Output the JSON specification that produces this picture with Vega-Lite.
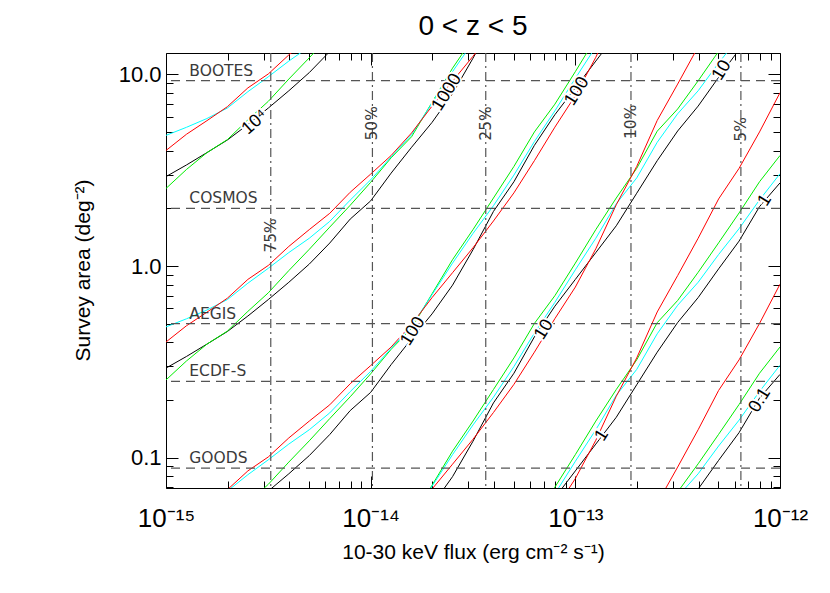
{
  "$schema": "https://vega.github.io/schema/vega-lite/v6.json",
  "width": 614,
  "height": 435,
  "autosize": {"type": "none"},
  "padding": {"left": 166, "top": 53, "right": 50, "bottom": 105},
  "background": "white",
  "title": {"text": "0 < z < 5", "fontSize": 28, "font": "Liberation Sans", "fontWeight": "normal", "color": "black", "offset": 11},
  "config": {
    "view": {"stroke": "black", "strokeWidth": 1},
    "font": "Liberation Sans"
  },
  "datasets": {
    "curves": [
      {"color":"k","level":"1e4","flux":1e-15,"area":2.93},{"color":"k","level":"1e4","flux":1.259e-15,"area":3.37},{"color":"k","level":"1e4","flux":1.585e-15,"area":3.91},{"color":"k","level":"1e4","flux":1.995e-15,"area":4.55},{"color":"k","level":"1e4","flux":2.512e-15,"area":5.48},{"color":"k","level":"1e4","flux":3.162e-15,"area":6.68},{"color":"k","level":"1e4","flux":3.981e-15,"area":8.22},{"color":"k","level":"1e4","flux":5.012e-15,"area":10.23},{"color":"k","level":"1e4","flux":6.31e-15,"area":13.18},{"color":"k","level":"1e4","flux":7.943e-15,"area":17.58},
      {"color":"k","level":"1e3","flux":1e-15,"area":0.293},{"color":"k","level":"1e3","flux":1.259e-15,"area":0.337},{"color":"k","level":"1e3","flux":1.585e-15,"area":0.391},{"color":"k","level":"1e3","flux":1.995e-15,"area":0.455},{"color":"k","level":"1e3","flux":2.512e-15,"area":0.548},{"color":"k","level":"1e3","flux":3.162e-15,"area":0.668},{"color":"k","level":"1e3","flux":3.981e-15,"area":0.822},{"color":"k","level":"1e3","flux":5.012e-15,"area":1.023},{"color":"k","level":"1e3","flux":6.31e-15,"area":1.318},{"color":"k","level":"1e3","flux":7.943e-15,"area":1.758},{"color":"k","level":"1e3","flux":1e-14,"area":2.188},{"color":"k","level":"1e3","flux":1.259e-14,"area":3.055},{"color":"k","level":"1e3","flux":1.585e-14,"area":4.169},{"color":"k","level":"1e3","flux":1.995e-14,"area":5.623},{"color":"k","level":"1e3","flux":2.512e-14,"area":7.943},{"color":"k","level":"1e3","flux":3.162e-14,"area":12.16},{"color":"k","level":"1e3","flux":3.981e-14,"area":19.28},
      {"color":"k","level":"1e2","flux":3.162e-15,"area":0.0668},{"color":"k","level":"1e2","flux":3.981e-15,"area":0.0822},{"color":"k","level":"1e2","flux":5.012e-15,"area":0.1023},{"color":"k","level":"1e2","flux":6.31e-15,"area":0.1318},{"color":"k","level":"1e2","flux":7.943e-15,"area":0.1758},{"color":"k","level":"1e2","flux":1e-14,"area":0.2188},{"color":"k","level":"1e2","flux":1.259e-14,"area":0.3055},{"color":"k","level":"1e2","flux":1.585e-14,"area":0.4169},{"color":"k","level":"1e2","flux":1.995e-14,"area":0.5623},{"color":"k","level":"1e2","flux":2.512e-14,"area":0.7943},{"color":"k","level":"1e2","flux":3.162e-14,"area":1.216},{"color":"k","level":"1e2","flux":3.981e-14,"area":1.928},{"color":"k","level":"1e2","flux":5.012e-14,"area":2.754},{"color":"k","level":"1e2","flux":6.31e-14,"area":4.266},{"color":"k","level":"1e2","flux":7.943e-14,"area":6.166},{"color":"k","level":"1e2","flux":1e-13,"area":8.511},{"color":"k","level":"1e2","flux":1.259e-13,"area":11.75},{"color":"k","level":"1e2","flux":1.585e-13,"area":16.22},
      {"color":"k","level":"1e1","flux":1.995e-14,"area":0.05623},{"color":"k","level":"1e1","flux":2.512e-14,"area":0.07943},{"color":"k","level":"1e1","flux":3.162e-14,"area":0.1216},{"color":"k","level":"1e1","flux":3.981e-14,"area":0.1928},{"color":"k","level":"1e1","flux":5.012e-14,"area":0.2754},{"color":"k","level":"1e1","flux":6.31e-14,"area":0.4266},{"color":"k","level":"1e1","flux":7.943e-14,"area":0.6166},{"color":"k","level":"1e1","flux":1e-13,"area":0.8511},{"color":"k","level":"1e1","flux":1.259e-13,"area":1.175},{"color":"k","level":"1e1","flux":1.585e-13,"area":1.622},{"color":"k","level":"1e1","flux":1.995e-13,"area":2.399},{"color":"k","level":"1e1","flux":2.512e-13,"area":3.548},{"color":"k","level":"1e1","flux":3.162e-13,"area":5.07},{"color":"k","level":"1e1","flux":3.981e-13,"area":6.839},{"color":"k","level":"1e1","flux":5.012e-13,"area":9.661},{"color":"k","level":"1e1","flux":6.31e-13,"area":13.49},
      {"color":"k","level":"1e0","flux":7.943e-14,"area":0.06166},{"color":"k","level":"1e0","flux":1e-13,"area":0.08511},{"color":"k","level":"1e0","flux":1.259e-13,"area":0.1175},{"color":"k","level":"1e0","flux":1.585e-13,"area":0.1622},{"color":"k","level":"1e0","flux":1.995e-13,"area":0.2399},{"color":"k","level":"1e0","flux":2.512e-13,"area":0.3548},{"color":"k","level":"1e0","flux":3.162e-13,"area":0.507},{"color":"k","level":"1e0","flux":3.981e-13,"area":0.6839},{"color":"k","level":"1e0","flux":5.012e-13,"area":0.9661},{"color":"k","level":"1e0","flux":6.31e-13,"area":1.349},{"color":"k","level":"1e0","flux":7.943e-13,"area":2.042},{"color":"k","level":"1e0","flux":1e-12,"area":2.716},
      {"color":"k","level":"1e-1","flux":3.162e-13,"area":0.0507},{"color":"k","level":"1e-1","flux":3.981e-13,"area":0.06839},{"color":"k","level":"1e-1","flux":5.012e-13,"area":0.09661},{"color":"k","level":"1e-1","flux":6.31e-13,"area":0.1349},{"color":"k","level":"1e-1","flux":7.943e-13,"area":0.2042},{"color":"k","level":"1e-1","flux":1e-12,"area":0.2716},

      {"color":"g","level":"1e4","flux":1e-15,"area":2.541},{"color":"g","level":"1e4","flux":1.259e-15,"area":3.192},{"color":"g","level":"1e4","flux":1.585e-15,"area":3.908},{"color":"g","level":"1e4","flux":1.995e-15,"area":4.571},{"color":"g","level":"1e4","flux":2.512e-15,"area":5.794},{"color":"g","level":"1e4","flux":3.162e-15,"area":7.244},{"color":"g","level":"1e4","flux":3.981e-15,"area":9.462},{"color":"g","level":"1e4","flux":5.012e-15,"area":12.22},{"color":"g","level":"1e4","flux":6.31e-15,"area":15.96},
      {"color":"g","level":"1e3","flux":1e-15,"area":0.2541},{"color":"g","level":"1e3","flux":1.259e-15,"area":0.3192},{"color":"g","level":"1e3","flux":1.585e-15,"area":0.3908},{"color":"g","level":"1e3","flux":1.995e-15,"area":0.4571},{"color":"g","level":"1e3","flux":2.512e-15,"area":0.5794},{"color":"g","level":"1e3","flux":3.162e-15,"area":0.7244},{"color":"g","level":"1e3","flux":3.981e-15,"area":0.9462},{"color":"g","level":"1e3","flux":5.012e-15,"area":1.222},{"color":"g","level":"1e3","flux":6.31e-15,"area":1.596},{"color":"g","level":"1e3","flux":7.943e-15,"area":2.075},{"color":"g","level":"1e3","flux":1e-14,"area":2.735},{"color":"g","level":"1e3","flux":1.259e-14,"area":3.673},{"color":"g","level":"1e3","flux":1.585e-14,"area":4.732},{"color":"g","level":"1e3","flux":1.995e-14,"area":7.161},{"color":"g","level":"1e3","flux":2.512e-14,"area":10.79},{"color":"g","level":"1e3","flux":3.162e-14,"area":15.49},
      {"color":"g","level":"1e2","flux":2.512e-15,"area":0.05794},{"color":"g","level":"1e2","flux":3.162e-15,"area":0.07244},{"color":"g","level":"1e2","flux":3.981e-15,"area":0.09462},{"color":"g","level":"1e2","flux":5.012e-15,"area":0.1222},{"color":"g","level":"1e2","flux":6.31e-15,"area":0.1596},{"color":"g","level":"1e2","flux":7.943e-15,"area":0.2075},{"color":"g","level":"1e2","flux":1e-14,"area":0.2735},{"color":"g","level":"1e2","flux":1.259e-14,"area":0.3673},{"color":"g","level":"1e2","flux":1.585e-14,"area":0.4732},{"color":"g","level":"1e2","flux":1.995e-14,"area":0.7161},{"color":"g","level":"1e2","flux":2.512e-14,"area":1.079},{"color":"g","level":"1e2","flux":3.162e-14,"area":1.549},{"color":"g","level":"1e2","flux":3.981e-14,"area":2.265},{"color":"g","level":"1e2","flux":5.012e-14,"area":3.311},{"color":"g","level":"1e2","flux":6.31e-14,"area":5.012},{"color":"g","level":"1e2","flux":7.943e-14,"area":6.998},{"color":"g","level":"1e2","flux":1e-13,"area":10.35},{"color":"g","level":"1e2","flux":1.259e-13,"area":15.49},
      {"color":"g","level":"1e1","flux":1.585e-14,"area":0.04732},{"color":"g","level":"1e1","flux":1.995e-14,"area":0.07161},{"color":"g","level":"1e1","flux":2.512e-14,"area":0.1079},{"color":"g","level":"1e1","flux":3.162e-14,"area":0.1549},{"color":"g","level":"1e1","flux":3.981e-14,"area":0.2265},{"color":"g","level":"1e1","flux":5.012e-14,"area":0.3311},{"color":"g","level":"1e1","flux":6.31e-14,"area":0.5012},{"color":"g","level":"1e1","flux":7.943e-14,"area":0.6998},{"color":"g","level":"1e1","flux":1e-13,"area":1.035},{"color":"g","level":"1e1","flux":1.259e-13,"area":1.549},{"color":"g","level":"1e1","flux":1.585e-13,"area":2.265},{"color":"g","level":"1e1","flux":1.995e-13,"area":3.236},{"color":"g","level":"1e1","flux":2.512e-13,"area":5.058},{"color":"g","level":"1e1","flux":3.162e-13,"area":6.607},{"color":"g","level":"1e1","flux":3.981e-13,"area":9.268},{"color":"g","level":"1e1","flux":5.012e-13,"area":13.21},
      {"color":"g","level":"1e0","flux":6.31e-14,"area":0.05012},{"color":"g","level":"1e0","flux":7.943e-14,"area":0.06998},{"color":"g","level":"1e0","flux":1e-13,"area":0.1035},{"color":"g","level":"1e0","flux":1.259e-13,"area":0.1549},{"color":"g","level":"1e0","flux":1.585e-13,"area":0.2265},{"color":"g","level":"1e0","flux":1.995e-13,"area":0.3236},{"color":"g","level":"1e0","flux":2.512e-13,"area":0.5058},{"color":"g","level":"1e0","flux":3.162e-13,"area":0.6607},{"color":"g","level":"1e0","flux":3.981e-13,"area":0.9268},{"color":"g","level":"1e0","flux":5.012e-13,"area":1.321},{"color":"g","level":"1e0","flux":6.31e-13,"area":1.892},{"color":"g","level":"1e0","flux":7.943e-13,"area":2.754},{"color":"g","level":"1e0","flux":1e-12,"area":3.776},
      {"color":"g","level":"1e-1","flux":2.512e-13,"area":0.05058},{"color":"g","level":"1e-1","flux":3.162e-13,"area":0.06607},{"color":"g","level":"1e-1","flux":3.981e-13,"area":0.09268},{"color":"g","level":"1e-1","flux":5.012e-13,"area":0.1321},{"color":"g","level":"1e-1","flux":6.31e-13,"area":0.1892},{"color":"g","level":"1e-1","flux":7.943e-13,"area":0.2754},{"color":"g","level":"1e-1","flux":1e-12,"area":0.3776},

      {"color":"c","level":"1e4","flux":1e-15,"area":4.81},{"color":"c","level":"1e4","flux":1.259e-15,"area":5.3},{"color":"c","level":"1e4","flux":1.585e-15,"area":5.89},{"color":"c","level":"1e4","flux":1.995e-15,"area":6.68},{"color":"c","level":"1e4","flux":2.512e-15,"area":8.13},{"color":"c","level":"1e4","flux":3.162e-15,"area":9.73},{"color":"c","level":"1e4","flux":3.981e-15,"area":11.75},{"color":"c","level":"1e4","flux":5.012e-15,"area":13.96},
      {"color":"c","level":"1e3","flux":1e-15,"area":0.481},{"color":"c","level":"1e3","flux":1.259e-15,"area":0.53},{"color":"c","level":"1e3","flux":1.585e-15,"area":0.589},{"color":"c","level":"1e3","flux":1.995e-15,"area":0.668},{"color":"c","level":"1e3","flux":2.512e-15,"area":0.813},{"color":"c","level":"1e3","flux":3.162e-15,"area":0.973},{"color":"c","level":"1e3","flux":3.981e-15,"area":1.175},{"color":"c","level":"1e3","flux":5.012e-15,"area":1.396},{"color":"c","level":"1e3","flux":6.31e-15,"area":1.71},{"color":"c","level":"1e3","flux":7.943e-15,"area":2.208},{"color":"c","level":"1e3","flux":1e-14,"area":2.818},{"color":"c","level":"1e3","flux":1.259e-14,"area":3.715},{"color":"c","level":"1e3","flux":1.585e-14,"area":4.853},{"color":"c","level":"1e3","flux":1.995e-14,"area":7.079},{"color":"c","level":"1e3","flux":2.512e-14,"area":10.35},{"color":"c","level":"1e3","flux":3.162e-14,"area":14.79},
      {"color":"c","level":"1e2","flux":1.995e-15,"area":0.0668},{"color":"c","level":"1e2","flux":2.512e-15,"area":0.0813},{"color":"c","level":"1e2","flux":3.162e-15,"area":0.0973},{"color":"c","level":"1e2","flux":3.981e-15,"area":0.1175},{"color":"c","level":"1e2","flux":5.012e-15,"area":0.1396},{"color":"c","level":"1e2","flux":6.31e-15,"area":0.171},{"color":"c","level":"1e2","flux":7.943e-15,"area":0.2208},{"color":"c","level":"1e2","flux":1e-14,"area":0.2818},{"color":"c","level":"1e2","flux":1.259e-14,"area":0.3715},{"color":"c","level":"1e2","flux":1.585e-14,"area":0.4853},{"color":"c","level":"1e2","flux":1.995e-14,"area":0.7079},{"color":"c","level":"1e2","flux":2.512e-14,"area":1.035},{"color":"c","level":"1e2","flux":3.162e-14,"area":1.479},{"color":"c","level":"1e2","flux":3.981e-14,"area":2.065},{"color":"c","level":"1e2","flux":5.012e-14,"area":2.985},{"color":"c","level":"1e2","flux":6.31e-14,"area":4.467},{"color":"c","level":"1e2","flux":7.943e-14,"area":6.457},{"color":"c","level":"1e2","flux":1e-13,"area":9.55},{"color":"c","level":"1e2","flux":1.259e-13,"area":13.96},
      {"color":"c","level":"1e1","flux":1.585e-14,"area":0.04853},{"color":"c","level":"1e1","flux":1.995e-14,"area":0.07079},{"color":"c","level":"1e1","flux":2.512e-14,"area":0.1035},{"color":"c","level":"1e1","flux":3.162e-14,"area":0.1479},{"color":"c","level":"1e1","flux":3.981e-14,"area":0.2065},{"color":"c","level":"1e1","flux":5.012e-14,"area":0.2985},{"color":"c","level":"1e1","flux":6.31e-14,"area":0.4467},{"color":"c","level":"1e1","flux":7.943e-14,"area":0.6457},{"color":"c","level":"1e1","flux":1e-13,"area":0.955},{"color":"c","level":"1e1","flux":1.259e-13,"area":1.396},{"color":"c","level":"1e1","flux":1.585e-13,"area":2.113},{"color":"c","level":"1e1","flux":1.995e-13,"area":2.884},{"color":"c","level":"1e1","flux":2.512e-13,"area":4.426},{"color":"c","level":"1e1","flux":3.162e-13,"area":6.237},{"color":"c","level":"1e1","flux":3.981e-13,"area":8.222},{"color":"c","level":"1e1","flux":5.012e-13,"area":11.48},{"color":"c","level":"1e1","flux":6.31e-13,"area":15.67},
      {"color":"c","level":"1e0","flux":6.31e-14,"area":0.04467},{"color":"c","level":"1e0","flux":7.943e-14,"area":0.06457},{"color":"c","level":"1e0","flux":1e-13,"area":0.0955},{"color":"c","level":"1e0","flux":1.259e-13,"area":0.1396},{"color":"c","level":"1e0","flux":1.585e-13,"area":0.2113},{"color":"c","level":"1e0","flux":1.995e-13,"area":0.2884},{"color":"c","level":"1e0","flux":2.512e-13,"area":0.4426},{"color":"c","level":"1e0","flux":3.162e-13,"area":0.6237},{"color":"c","level":"1e0","flux":3.981e-13,"area":0.8222},{"color":"c","level":"1e0","flux":5.012e-13,"area":1.148},{"color":"c","level":"1e0","flux":6.31e-13,"area":1.567},{"color":"c","level":"1e0","flux":7.943e-13,"area":2.213},{"color":"c","level":"1e0","flux":1e-12,"area":3.034},
      {"color":"c","level":"1e-1","flux":3.162e-13,"area":0.06237},{"color":"c","level":"1e-1","flux":3.981e-13,"area":0.08222},{"color":"c","level":"1e-1","flux":5.012e-13,"area":0.1148},{"color":"c","level":"1e-1","flux":6.31e-13,"area":0.1567},{"color":"c","level":"1e-1","flux":7.943e-13,"area":0.2213},{"color":"c","level":"1e-1","flux":1e-12,"area":0.3034},

      {"color":"r","level":"1e4","flux":1e-15,"area":4.01},{"color":"r","level":"1e4","flux":1.259e-15,"area":4.875},{"color":"r","level":"1e4","flux":1.585e-15,"area":5.74},{"color":"r","level":"1e4","flux":1.995e-15,"area":6.79},{"color":"r","level":"1e4","flux":2.512e-15,"area":8.51},{"color":"r","level":"1e4","flux":3.162e-15,"area":10.07},{"color":"r","level":"1e4","flux":3.981e-15,"area":12.65},{"color":"r","level":"1e4","flux":5.012e-15,"area":15.49},
      {"color":"r","level":"1e3","flux":1e-15,"area":0.401},{"color":"r","level":"1e3","flux":1.259e-15,"area":0.4875},{"color":"r","level":"1e3","flux":1.585e-15,"area":0.574},{"color":"r","level":"1e3","flux":1.995e-15,"area":0.679},{"color":"r","level":"1e3","flux":2.512e-15,"area":0.851},{"color":"r","level":"1e3","flux":3.162e-15,"area":1.007},{"color":"r","level":"1e3","flux":3.981e-15,"area":1.265},{"color":"r","level":"1e3","flux":5.012e-15,"area":1.549},{"color":"r","level":"1e3","flux":6.31e-15,"area":1.884},{"color":"r","level":"1e3","flux":7.943e-15,"area":2.427},{"color":"r","level":"1e3","flux":1e-14,"area":3.02},{"color":"r","level":"1e3","flux":1.259e-14,"area":3.776},{"color":"r","level":"1e3","flux":1.585e-14,"area":4.955},{"color":"r","level":"1e3","flux":1.995e-14,"area":6.839},{"color":"r","level":"1e3","flux":2.512e-14,"area":9.226},{"color":"r","level":"1e3","flux":3.162e-14,"area":12.45},{"color":"r","level":"1e3","flux":3.981e-14,"area":17.18},
      {"color":"r","level":"1e2","flux":1.995e-15,"area":0.0679},{"color":"r","level":"1e2","flux":2.512e-15,"area":0.0851},{"color":"r","level":"1e2","flux":3.162e-15,"area":0.1007},{"color":"r","level":"1e2","flux":3.981e-15,"area":0.1265},{"color":"r","level":"1e2","flux":5.012e-15,"area":0.1549},{"color":"r","level":"1e2","flux":6.31e-15,"area":0.1884},{"color":"r","level":"1e2","flux":7.943e-15,"area":0.2427},{"color":"r","level":"1e2","flux":1e-14,"area":0.302},{"color":"r","level":"1e2","flux":1.259e-14,"area":0.3776},{"color":"r","level":"1e2","flux":1.585e-14,"area":0.4955},{"color":"r","level":"1e2","flux":1.995e-14,"area":0.6839},{"color":"r","level":"1e2","flux":2.512e-14,"area":0.9226},{"color":"r","level":"1e2","flux":3.162e-14,"area":1.245},{"color":"r","level":"1e2","flux":3.981e-14,"area":1.718},{"color":"r","level":"1e2","flux":5.012e-14,"area":2.41},{"color":"r","level":"1e2","flux":6.31e-14,"area":3.548},{"color":"r","level":"1e2","flux":7.943e-14,"area":5.309},{"color":"r","level":"1e2","flux":1e-13,"area":7.762},{"color":"r","level":"1e2","flux":1.259e-13,"area":12.3},{"color":"r","level":"1e2","flux":1.585e-13,"area":20.89},
      {"color":"r","level":"1e1","flux":1.995e-14,"area":0.06839},{"color":"r","level":"1e1","flux":2.512e-14,"area":0.09226},{"color":"r","level":"1e1","flux":3.162e-14,"area":0.1245},{"color":"r","level":"1e1","flux":3.981e-14,"area":0.1718},{"color":"r","level":"1e1","flux":5.012e-14,"area":0.241},{"color":"r","level":"1e1","flux":6.31e-14,"area":0.3548},{"color":"r","level":"1e1","flux":7.943e-14,"area":0.5309},{"color":"r","level":"1e1","flux":1e-13,"area":0.7762},{"color":"r","level":"1e1","flux":1.259e-13,"area":1.23},{"color":"r","level":"1e1","flux":1.585e-13,"area":2.089},{"color":"r","level":"1e1","flux":1.995e-13,"area":3.311},{"color":"r","level":"1e1","flux":2.512e-13,"area":5.754},{"color":"r","level":"1e1","flux":3.162e-13,"area":8.913},{"color":"r","level":"1e1","flux":3.981e-13,"area":13.96},
      {"color":"r","level":"1e0","flux":7.943e-14,"area":0.05309},{"color":"r","level":"1e0","flux":1e-13,"area":0.07762},{"color":"r","level":"1e0","flux":1.259e-13,"area":0.123},{"color":"r","level":"1e0","flux":1.585e-13,"area":0.2089},{"color":"r","level":"1e0","flux":1.995e-13,"area":0.3311},{"color":"r","level":"1e0","flux":2.512e-13,"area":0.5754},{"color":"r","level":"1e0","flux":3.162e-13,"area":0.8913},{"color":"r","level":"1e0","flux":3.981e-13,"area":1.396},{"color":"r","level":"1e0","flux":5.012e-13,"area":2.239},{"color":"r","level":"1e0","flux":6.31e-13,"area":3.236},{"color":"r","level":"1e0","flux":7.943e-13,"area":5.012},{"color":"r","level":"1e0","flux":1e-12,"area":8.035},
      {"color":"r","level":"1e-1","flux":2.512e-13,"area":0.05754},{"color":"r","level":"1e-1","flux":3.162e-13,"area":0.08913},{"color":"r","level":"1e-1","flux":3.981e-13,"area":0.1396},{"color":"r","level":"1e-1","flux":5.012e-13,"area":0.2239},{"color":"r","level":"1e-1","flux":6.31e-13,"area":0.3236},{"color":"r","level":"1e-1","flux":7.943e-13,"area":0.5012},{"color":"r","level":"1e-1","flux":1e-12,"area":0.8035}
    ],
    "surveys": [
      {"name": "BOOTES", "area": 9.3},
      {"name": "COSMOS", "area": 2.0},
      {"name": "AEGIS", "area": 0.5},
      {"name": "ECDF-S", "area": 0.25},
      {"name": "GOODS", "area": 0.088}
    ],
    "completeness": [
      {"pct": "75%", "flux": 3.25e-15, "labelArea": 1.445},
      {"pct": "50%", "flux": 1.02e-14, "labelArea": 5.56},
      {"pct": "25%", "flux": 3.65e-14, "labelArea": 5.55},
      {"pct": "10%", "flux": 1.87e-13, "labelArea": 5.66},
      {"pct": "5%", "flux": 6.44e-13, "labelArea": 5.17}
    ],
    "levelLabels": [
      {"text": "1000", "flux": 2.36e-14, "area": 8.07},
      {"text": "100", "flux": 1.61e-14, "area": 0.456},
      {"text": "100", "flux": 1.019e-13, "area": 8.17},
      {"text": "10", "flux": 7.03e-14, "area": 0.466},
      {"text": "10", "flux": 5.2e-13, "area": 10.5},
      {"text": "1", "flux": 1.349e-13, "area": 0.1306},
      {"text": "1", "flux": 8.43e-13, "area": 2.2},
      {"text": "0.1", "flux": 7.98e-13, "area": 0.199}
    ],
    "topLabel": [
      {"text": "10⁴", "flux": 2.72e-15, "area": 5.63}
    ]
  },
  "layer": [
    {
      "data": {"name": "curves"},
      "mark": {"type": "line", "strokeWidth": 1, "clip": true},
      "encoding": {
        "x": {
          "field": "flux", "type": "quantitative",
          "scale": {"type": "log", "domain": [1e-15, 1e-12], "nice": false},
          "axis": {
            "orient": "bottom",
            "values": [1e-15,2e-15,3e-15,4e-15,5e-15,6e-15,7e-15,8e-15,9e-15,1e-14,2e-14,3e-14,4e-14,5e-14,6e-14,7e-14,8e-14,9e-14,1e-13,2e-13,3e-13,4e-13,5e-13,6e-13,7e-13,8e-13,9e-13,1e-12],
            "labelExpr": "datum.value == 1e-15 ? '10⁻¹⁵' : datum.value == 1e-14 ? '10⁻¹⁴' : datum.value == 1e-13 ? '10⁻¹³' : datum.value == 1e-12 ? '10⁻¹²' : ''",
            "tickSize": {"condition": {"test": "indexof([1e-15,1e-14,1e-13,1e-12], datum.value) >= 0", "value": -12}, "value": -7},
            "tickColor": "black",
            "domain": false, "grid": false,
            "labelFontSize": 26, "labelFont": "Liberation Sans", "labelColor": "black",
            "labelPadding": 29, "labelFlush": false, "labelOverlap": false,
            "title": "10-30 keV flux (erg cm⁻² s⁻¹)",
            "titleFontSize": 21, "titleFont": "Liberation Sans", "titleFontWeight": "normal", "titleColor": "black",
            "titleX": 307, "titleY": 64, "titleBaseline": "middle", "titleAlign": "center"
          }
        },
        "y": {
          "field": "area", "type": "quantitative",
          "scale": {"type": "log", "domain": [0.0693, 12.95], "nice": false, "zero": false},
          "axis": {
            "orient": "left",
            "values": [0.07,0.08,0.09,0.1,0.2,0.3,0.4,0.5,0.6,0.7,0.8,0.9,1,2,3,4,5,6,7,8,9,10],
            "labelExpr": "datum.value == 0.1 ? '0.1' : datum.value == 1 ? '1.0' : datum.value == 10 ? '10.0' : ''",
            "tickSize": {"condition": {"test": "indexof([0.1,1,10], datum.value) >= 0", "value": -12}, "value": -7},
            "tickColor": "black",
            "domain": false, "grid": false,
            "labelFontSize": 22, "labelFont": "Liberation Sans", "labelColor": "black",
            "labelPadding": 17, "labelFlush": false, "labelOverlap": false, "labelBaseline": "middle",
            "title": "Survey area (deg⁻²)",
            "titleFontSize": 21, "titleFont": "Liberation Sans", "titleFontWeight": "normal", "titleColor": "black",
            "titleX": -83, "titleY": 217, "titleAngle": 270, "titleBaseline": "middle", "titleAlign": "center"
          }
        },
        "color": {
          "field": "color", "type": "nominal",
          "scale": {"domain": ["k", "g", "c", "r"], "range": ["#000000", "#00ee00", "#00ffff", "#ff0000"]},
          "legend": null
        },
        "detail": {"field": "level", "type": "nominal"}
      }
    },
    {
      "data": {"name": "surveys"},
      "mark": {"type": "rule", "stroke": "#555555", "strokeWidth": 1.2, "strokeDash": [9, 6]},
      "encoding": {
        "y": {
          "field": "area", "type": "quantitative",
          "axis": {
            "orient": "right",
            "values": [0.07,0.08,0.09,0.1,0.2,0.3,0.4,0.5,0.6,0.7,0.8,0.9,1,2,3,4,5,6,7,8,9,10],
            "labels": false, "title": null, "domain": false, "grid": false,
            "tickColor": "black",
            "tickSize": {"condition": {"test": "indexof([0.1,1,10], datum.value) >= 0", "value": -12}, "value": -7}
          }
        }
      }
    },
    {
      "data": {"name": "completeness"},
      "mark": {"type": "rule", "stroke": "#555555", "strokeWidth": 1.2, "strokeDash": [9, 4, 2, 4]},
      "encoding": {
        "x": {
          "field": "flux", "type": "quantitative",
          "axis": {
            "orient": "top",
            "values": [1e-15,2e-15,3e-15,4e-15,5e-15,6e-15,7e-15,8e-15,9e-15,1e-14,2e-14,3e-14,4e-14,5e-14,6e-14,7e-14,8e-14,9e-14,1e-13,2e-13,3e-13,4e-13,5e-13,6e-13,7e-13,8e-13,9e-13,1e-12],
            "labels": false, "title": null, "domain": false, "grid": false,
            "tickColor": "black",
            "tickSize": {"condition": {"test": "indexof([1e-15,1e-14,1e-13,1e-12], datum.value) >= 0", "value": -12}, "value": -7}
          }
        }
      }
    },
    {
      "data": {"name": "surveys"},
      "mark": {"type": "text", "align": "left", "baseline": "bottom", "dy": -2, "font": "DejaVu Sans", "fontSize": 15.5, "color": "#3a3a3a"},
      "encoding": {
        "x": {"datum": 1.3e-15, "type": "quantitative", "axis": null},
        "y": {"field": "area", "type": "quantitative", "axis": null},
        "text": {"field": "name"}
      }
    },
    {
      "data": {"name": "completeness"},
      "mark": {"type": "text", "align": "center", "baseline": "middle", "angle": 270, "font": "DejaVu Sans", "fontSize": 15.5, "color": "#3a3a3a"},
      "encoding": {
        "x": {"field": "flux", "type": "quantitative", "axis": null},
        "y": {"field": "labelArea", "type": "quantitative", "axis": null},
        "text": {"field": "pct"}
      }
    },
    {
      "data": {"name": "levelLabels"},
      "mark": {"type": "text", "align": "center", "baseline": "middle", "angle": 302, "font": "Liberation Sans", "fontSize": 18, "stroke": "white", "strokeWidth": 4, "fill": "white"},
      "encoding": {
        "x": {"field": "flux", "type": "quantitative", "axis": null},
        "y": {"field": "area", "type": "quantitative", "axis": null},
        "text": {"field": "text"}
      }
    },
    {
      "data": {"name": "levelLabels"},
      "mark": {"type": "text", "align": "center", "baseline": "middle", "angle": 302, "font": "Liberation Sans", "fontSize": 18, "color": "black"},
      "encoding": {
        "x": {"field": "flux", "type": "quantitative", "axis": null},
        "y": {"field": "area", "type": "quantitative", "axis": null},
        "text": {"field": "text"}
      }
    },
    {
      "data": {"name": "topLabel"},
      "mark": {"type": "text", "align": "center", "baseline": "middle", "angle": 318, "font": "Liberation Sans", "fontSize": 18, "stroke": "white", "strokeWidth": 4, "fill": "white"},
      "encoding": {
        "x": {"field": "flux", "type": "quantitative", "axis": null},
        "y": {"field": "area", "type": "quantitative", "axis": null},
        "text": {"field": "text"}
      }
    },
    {
      "data": {"name": "topLabel"},
      "mark": {"type": "text", "align": "center", "baseline": "middle", "angle": 318, "font": "Liberation Sans", "fontSize": 18, "color": "black"},
      "encoding": {
        "x": {"field": "flux", "type": "quantitative", "axis": null},
        "y": {"field": "area", "type": "quantitative", "axis": null},
        "text": {"field": "text"}
      }
    }
  ],
  "resolve": {"axis": {"x": "independent", "y": "independent"}}
}
